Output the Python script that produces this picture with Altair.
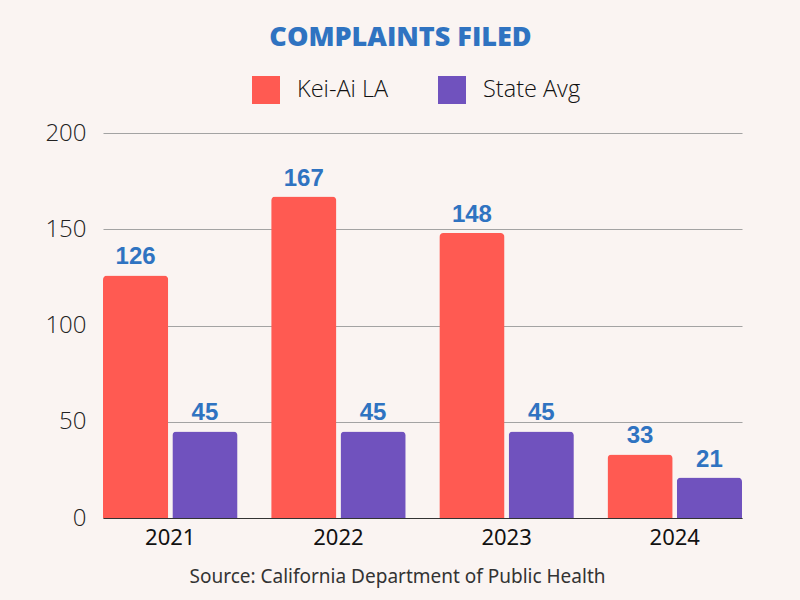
import altair as alt
import pandas as pd

years = ["2021", "2022", "2023", "2024"]
kei_ai = [126, 167, 148, 33]
state_avg = [45, 45, 45, 21]
series_names = ["Kei-Ai LA", "State Avg"]
colors = ["#ff5a52", "#7052be"]

rows = []
for i, y in enumerate(years):
    rows.append({"year": y, "series": series_names[0], "value": kei_ai[i]})
    rows.append({"year": y, "series": series_names[1], "value": state_avg[i]})
df = pd.DataFrame(rows)

blue = "#2f73c1"

x = alt.X("year:N", sort=years,
          scale=alt.Scale(paddingInner=0.2, paddingOuter=0),
          axis=alt.Axis(labelAngle=0, labelFontSize=22, labelFont="Noto Sans",
                        labelColor="#111", labelPadding=9, ticks=False,
                        domain=True, domainColor="#333", domainWidth=1,
                        title="Source: California Department of Public Health",
                        titleFontSize=19, titleFont="Noto Sans", titleFontWeight="normal",
                        titleColor="#333", titleX=294, titleY=58, titleBaseline="middle",
                        titleAnchor="middle"))
xo = alt.XOffset("series:N", sort=series_names,
                 scale=alt.Scale(paddingInner=0.06, paddingOuter=0))
y = alt.Y("value:Q",
          scale=alt.Scale(domain=[0, 200]),
          axis=alt.Axis(values=[0, 50, 100, 150, 200], labelFontSize=24,
                        labelFont="Open Sans", labelFontWeight=300, labelColor="#222",
                        labelPadding=17, ticks=False, domain=False,
                        gridColor="#a3a3a3", gridWidth=1, title=None))
color = alt.Color("series:N", sort=series_names,
                  scale=alt.Scale(domain=series_names, range=colors),
                  legend=alt.Legend(title=None, orient="none", legendX=149, legendY=-57,
                                    direction="horizontal", symbolType="square",
                                    symbolSize=784, symbolStrokeWidth=0,
                                    labelFontSize=23.5, labelFont="Open Sans",
                                    labelFontWeight=300, labelColor="#111",
                                    labelOffset=17, columnPadding=49))

bars = alt.Chart(df).mark_bar(cornerRadiusTopLeft=4, cornerRadiusTopRight=4).encode(
    x=x, xOffset=xo, y=y, color=color)

labels = alt.Chart(df).mark_text(font="Liberation Sans", fontWeight="bold",
                                 fontSize=24, color=blue, dy=-11,
                                 baseline="alphabetic").encode(
    x=alt.X("year:N", sort=years), xOffset=alt.XOffset("series:N", sort=series_names),
    y="value:Q", text="value:Q")

chart = alt.layer(bars, labels).properties(
    width=639, height=385,
    title=alt.TitleParams("COMPLAINTS FILED", fontSize=27, font="Open Sans",
                          fontWeight=800, color=blue, anchor="middle", dx=-22,
                          offset=24, frame="group"),
    autosize=alt.AutoSizeParams(type="none"),
    padding={"left": 103, "top": 133, "right": 58, "bottom": 82},
    background="#faf4f2",
).configure_view(stroke=None)

chart.save("out.html", embed_options={"renderer": "svg", "actions": False})
